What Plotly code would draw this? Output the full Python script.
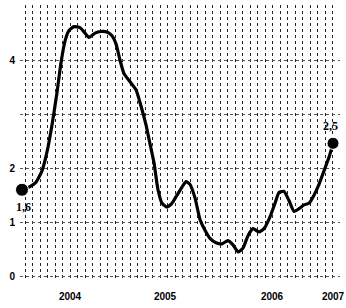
import plotly.graph_objects as go

# time index (approx. periods) and series values
periods = [0, 1.6, 2.8, 4, 5, 6, 7, 7.8, 8.6, 9.4, 10.4, 11.6, 12.6, 13.4, 14.6, 15.8,
           17, 18, 18.8, 19.6, 20.4, 21.6, 22.8, 23.8, 24.8, 25.6, 26.4, 27.2, 28,
           29, 30, 31, 32, 32.8, 33.6, 34.6, 35.6, 36.6, 37.6, 38.8, 40, 41.2, 42.2,
           43.2, 44.2, 45.2, 46.2, 47.4, 48.4, 49.6, 50.6, 51.4, 52.4, 53.4, 54.4,
           55.4, 56.4, 57.4, 58.4, 59.4, 60.4, 61.4, 62.2]
values = [1.60, 1.66, 1.74, 1.95, 2.3, 2.8, 3.4, 3.95, 4.35, 4.55, 4.62, 4.6, 4.5,
          4.42, 4.5, 4.53, 4.52, 4.45, 4.3, 4.0, 3.75, 3.6, 3.45, 3.15, 2.8, 2.45,
          2.1, 1.6, 1.35, 1.28, 1.35, 1.5, 1.65, 1.75, 1.7, 1.45, 1.05, 0.85, 0.7,
          0.62, 0.6, 0.66, 0.58, 0.45, 0.52, 0.75, 0.88, 0.82, 0.88, 1.1, 1.35,
          1.55, 1.57, 1.4, 1.2, 1.25, 1.32, 1.35, 1.5, 1.7, 1.95, 2.2, 2.46]

year_ticks = [9.6, 28.6, 50, 62.2]
year_labels = ["2004", "2005", "2006", "2007"]
y_ticks = [0, 1, 2, 3, 4]
y_labels = ["0", "1", "2", "", "4"]
start_label = "1,6"
end_label = "2,5"

fig = go.Figure()
fig.add_trace(go.Scatter(x=periods, y=values, mode="lines",
                         line=dict(color="black", width=3.2, shape="spline", smoothing=0.5),
                         hoverinfo="skip", cliponaxis=False))
fig.add_trace(go.Scatter(x=[periods[0], periods[-1]], y=[values[0], values[-1]],
                         mode="markers",
                         marker=dict(color="black", size=[13, 12], opacity=1),
                         hoverinfo="skip", cliponaxis=False))
fig.add_annotation(x=periods[0], y=values[0], text=start_label, showarrow=False,
                   xanchor="center", yanchor="top", yshift=-8, xshift=1,
                   font=dict(family="Liberation Serif", size=12, color="black", weight="bold"))
fig.add_annotation(x=periods[-1], y=values[-1], text=end_label, showarrow=False,
                   xanchor="right", yanchor="bottom", yshift=8, xshift=7,
                   font=dict(family="Liberation Serif", size=12, color="black", weight="bold"))

fig.update_layout(
    width=346, height=308,
    margin=dict(l=20, r=6, t=5, b=28),
    paper_bgcolor="white", plot_bgcolor="white",
    showlegend=False,
    font=dict(family="Liberation Sans", size=10, color="black"),
    xaxis=dict(range=[-0.4, 63.6], tickvals=year_ticks, ticktext=year_labels,
               automargin=False, ticklabelstandoff=9,
               showgrid=False, zeroline=False, showline=False, ticks="",
               tickfont=dict(family="Liberation Sans", size=10, color="black", weight="bold"),
               minor=dict(dtick=1.5, tick0=0.6, showgrid=True, griddash="dot",
                          gridcolor="#222", gridwidth=1.3)),
    yaxis=dict(range=[-0.07, 5.02], tickvals=y_ticks, ticktext=y_labels,
               automargin=False, ticklabelstandoff=4,
               showgrid=True, griddash="dot", gridcolor="#555", gridwidth=1,
               zeroline=False, showline=False, ticks="",
               tickfont=dict(family="Liberation Sans", size=10, color="black", weight="bold")),
)

fig.write_html("out.html", config={"displayModeBar": False},
               post_script="document.body.style.margin='0';document.body.style.overflow='hidden';")
